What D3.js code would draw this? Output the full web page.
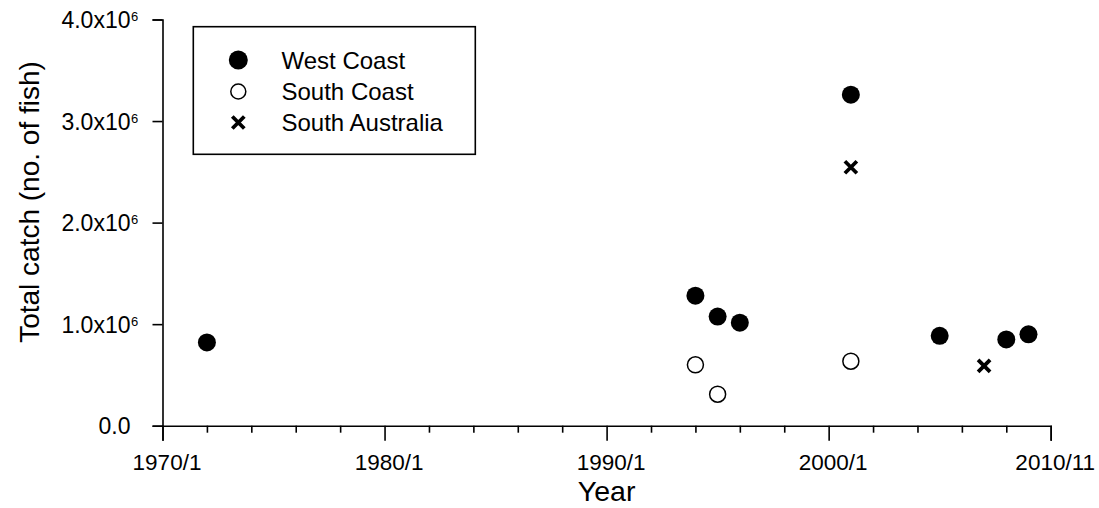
<!DOCTYPE html>
<html>
<head>
<meta charset="utf-8">
<script src="https://cdn.jsdelivr.net/npm/d3@7"></script>
<style>
  html, body { margin: 0; padding: 0; background: #fff; }
  svg { display: block; font-family: Arial, "Liberation Sans", sans-serif; }
</style>
</head>
<body>
<svg id="chart" width="1099" height="508"></svg>
<script>
// ---- data ----
const westYears  = [1972, 1994, 1995, 1996, 2001, 2005, 2008, 2009];
const westCatch  = [0.82e6, 1.28e6, 1.075e6, 1.015e6, 3.26e6, 0.885e6, 0.85e6, 0.90e6];
const southYears = [1994, 1995, 2001];
const southCatch = [0.60e6, 0.31e6, 0.635e6];
const saYears    = [2001, 2007];
const saCatch    = [2.545e6, 0.59e6];

const seriesNames = ["West Coast", "South Coast", "South Australia"];
const xMajorTicks = [1970, 1980, 1990, 2000, 2010];
const xTickLabels = ["1970/1", "1980/1", "1990/1", "2000/1", "2010/11"];
const xMinorTicks = [1972, 1974, 1976, 1978, 1982, 1984, 1986, 1988, 1992, 1994, 1996, 1998, 2002, 2004, 2006, 2008];
const yTicks = [0, 1e6, 2e6, 3e6, 4e6];
const yTickMantissa = ["0.0", "1.0x10", "2.0x10", "3.0x10", "4.0x10"];
const yTickExponent = ["", "6", "6", "6", "6"];
const xTitle = "Year";
const yTitle = "Total catch (no. of fish)";

// ---- layout ----
const FONT = "Arial, 'Liberation Sans', sans-serif";
const svg = d3.select("#chart");
const x = d3.scaleLinear().domain([1970, 2010]).range([162.5, 1050.7]);
const y = d3.scaleLinear().domain([0, 4e6]).range([425.7, 19.5]);

// x axis (major)
const gx = svg.append("g").attr("transform", `translate(0,${y(0)})`);
gx.call(d3.axisBottom(x).tickValues(xMajorTicks).tickSizeOuter(0).tickSize(15)
    .tickFormat((d, i) => xTickLabels[i]).tickPadding(13));
gx.select(".domain").attr("stroke", "#000").attr("stroke-width", 1.6);
gx.selectAll(".tick line").attr("stroke", "#000").attr("stroke-width", 1.6);
gx.selectAll(".tick text").attr("font-size", 22.5).attr("fill", "#000")
  .attr("font-family", FONT).attr("dx", 4);

// x axis minor ticks
const gxm = svg.append("g").attr("transform", `translate(0,${y(0)})`);
gxm.call(d3.axisBottom(x).tickValues(xMinorTicks).tickSizeOuter(0).tickSize(7).tickFormat(""));
gxm.select(".domain").remove();
gxm.selectAll(".tick line").attr("stroke", "#000").attr("stroke-width", 1.6);

// y axis
const gy = svg.append("g").attr("transform", `translate(${x(1970)},0)`);
gy.call(d3.axisLeft(y).tickValues(yTicks).tickSizeOuter(0).tickSize(10).tickFormat(""));
gy.select(".domain").attr("stroke", "#000").attr("stroke-width", 1.6);
gy.selectAll(".tick line").attr("stroke", "#000").attr("stroke-width", 1.6);
gy.selectAll(".tick").each(function(d, i) {
  const g = d3.select(this);
  g.append("text")
    .attr("fill", "#000").attr("font-size", 23).attr("font-family", FONT)
    .attr("text-anchor", "end").attr("x", -32).attr("dy", "0.36em")
    .text(yTickMantissa[i]);
  if (yTickExponent[i]) {
    g.append("text")
      .attr("fill", "#000").attr("font-size", 13).attr("font-family", FONT)
      .attr("text-anchor", "start").attr("x", -31.5).attr("dy", "0.1em")
      .text(yTickExponent[i]);
  }
});

// axis titles
svg.append("text").attr("x", (x(1970) + x(2010)) / 2).attr("y", 501)
  .attr("text-anchor", "middle").attr("font-size", 28.5).attr("fill", "#000")
  .attr("font-family", FONT).text(xTitle);
svg.append("text").attr("transform", "translate(39,202) rotate(-90)")
  .attr("text-anchor", "middle").attr("font-size", 28).attr("fill", "#000")
  .attr("font-family", FONT).text(yTitle);

// markers
const crossPath = "M-6,-6L6,6M-6,6L6,-6";
const west = westYears.map((yr, i) => ({ yr, v: westCatch[i] }));
const south = southYears.map((yr, i) => ({ yr, v: southCatch[i] }));
const sa = saYears.map((yr, i) => ({ yr, v: saCatch[i] }));

svg.append("g").selectAll("circle").data(west).join("circle")
  .attr("cx", d => x(d.yr)).attr("cy", d => y(d.v)).attr("r", 9).attr("fill", "#000");
svg.append("g").selectAll("circle").data(south).join("circle")
  .attr("cx", d => x(d.yr)).attr("cy", d => y(d.v)).attr("r", 8)
  .attr("fill", "#fff").attr("stroke", "#000").attr("stroke-width", 1.5);
svg.append("g").selectAll("path").data(sa).join("path")
  .attr("transform", d => `translate(${x(d.yr)},${y(d.v)})`)
  .attr("d", crossPath).attr("stroke", "#000").attr("stroke-width", 3.8).attr("fill", "none");

// legend
const lg = svg.append("g");
lg.append("rect").attr("x", 193.3).attr("y", 26.7).attr("width", 282).attr("height", 127.6)
  .attr("fill", "#fff").attr("stroke", "#000").attr("stroke-width", 1.6);
const rows = [60, 91.5, 122.5];
lg.append("circle").attr("cx", 238.3).attr("cy", rows[0]).attr("r", 9.5).attr("fill", "#000");
lg.append("circle").attr("cx", 238.3).attr("cy", rows[1]).attr("r", 7.5)
  .attr("fill", "#fff").attr("stroke", "#000").attr("stroke-width", 1.5);
lg.append("path").attr("transform", `translate(238.3,${rows[2]})`).attr("d", crossPath)
  .attr("stroke", "#000").attr("stroke-width", 3.8).attr("fill", "none");
seriesNames.forEach((n, i) => {
  lg.append("text").attr("x", 281.5).attr("y", rows[i]).attr("dy", "0.36em")
    .attr("font-size", 24).attr("fill", "#000").attr("font-family", FONT).text(n);
});
</script>
</body>
</html>
